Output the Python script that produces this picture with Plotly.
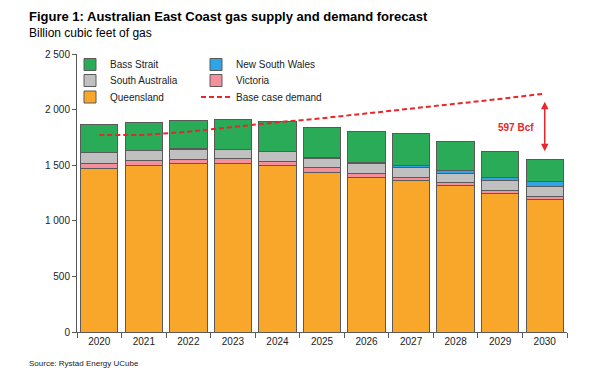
import plotly.graph_objects as go

years = [2020, 2021, 2022, 2023, 2024, 2025, 2026, 2027, 2028, 2029, 2030]
year_labels = [str(y) for y in years]
queensland = [1472, 1499, 1511, 1511, 1493, 1436, 1391, 1361, 1313, 1247, 1193]
victoria = [45, 45, 42, 45, 42, 45, 36, 30, 30, 27, 27]
south_australia = [95, 86, 90, 81, 86, 82, 84, 87, 84, 90, 87]
new_south_wales = [3, 3, 3, 3, 4, 8, 12, 15, 24, 27, 42]
bass_strait = [255, 255, 260, 269, 272, 264, 278, 288, 258, 234, 198]
base_case_demand = [1772, 1772, 1801, 1846, 1886, 1922, 1966, 2006, 2048, 2096, 2144]

y_tickvals = [0, 500, 1000, 1500, 2000, 2500]
y_ticktext = ["0", "500", "1 000", "1 500", "2 000", "2 500"]

FONT = "Liberation Sans, Arial, sans-serif"
OUTLINE = "#5a5a5a"

# (name, values, colour, legend id, legend left px, legend top px)
series = [
    ("Queensland", queensland, "#F9A72B", "legend5", 70, 82.5),
    ("Victoria", victoria, "#F4909B", "legend4", 196, 66),
    ("South Australia", south_australia, "#C0C0C0", "legend3", 70, 66),
    ("New South Wales", new_south_wales, "#2FA4E7", "legend2", 196, 50),
    ("Bass Strait", bass_strait, "#29AB57", "legend7", 70, 50),
]

legend_common = dict(
    xref="container", yref="container", xanchor="left", yanchor="top",
    orientation="v", traceorder="normal", visible=True,
    font=dict(family=FONT, size=10, color="#222222"),
    tracegroupgap=0, bgcolor="rgba(0,0,0,0)",
)
legend_layout = {}

fig = go.Figure()
for name, vals, color, leg, lx, ly in series:
    fig.add_trace(go.Bar(
        x=years, y=vals, name=name, showlegend=True,
        marker=dict(color=color, line=dict(color=OUTLINE, width=1)),
        legend=leg,
    ))
    legend_layout[leg] = dict(x=lx / 600, y=1 - ly / 375, **legend_common)

fig.add_trace(go.Scatter(
    x=years, y=base_case_demand, name="Base case demand", mode="lines",
    showlegend=True,
    line=dict(color="#E8262B", width=2, dash="5px,3px"),
    legend="legend6",
))
legend_layout["legend6"] = dict(x=196 / 600, y=1 - 82.5 / 375, **legend_common)

totals = [a + b + c + d + e for a, b, c, d, e in
          zip(queensland, victoria, south_australia, new_south_wales, bass_strait)]
gap = base_case_demand[-1] - totals[-1]

fig.add_annotation(
    x=years[-1], y=base_case_demand[-1] - 73, ax=years[-1], ay=totals[-1] + 74,
    xref="x", yref="y", axref="x", ayref="y",
    showarrow=True, arrowhead=2, arrowside="end+start", arrowsize=1,
    arrowwidth=1.5, arrowcolor="#E8262B", text="", font=dict(size=1),
    borderpad=0, standoff=0, startstandoff=0,
)
fig.add_annotation(
    x=years[-1] - 0.65, y=(base_case_demand[-1] + totals[-1]) / 2 - 5,
    xref="x", yref="y", showarrow=False,
    text="<b>%d Bcf</b>" % gap,
    font=dict(family=FONT, size=10, color="#E8262B"),
)

L, R, T, B = 77, 33, 54, 43
PW, PH = 600 - L - R, 375 - T - B


def px_to_paper(px, py):
    return (px - L) / PW, (375 - B - py) / PH


fig.update_layout(
    width=600, height=375, showlegend=True,
    margin=dict(l=L, r=R, t=T, b=B, autoexpand=False),
    paper_bgcolor="white", plot_bgcolor="white",
    barmode="stack", bargap=0.16,
    font=dict(family=FONT, size=10, color="#222222"),
    xaxis=dict(
        range=[years[0] - 0.5, years[-1] + 0.5],
        tickvals=years, ticktext=year_labels, ticks="", tickangle=0,
        showline=True, linecolor=OUTLINE, linewidth=1,
        showgrid=False, zeroline=False,
        tickfont=dict(family=FONT, size=10, color="#222222"),
        minor=dict(
            tickvals=[y - 0.5 for y in years] + [years[-1] + 0.5],
            ticks="outside", ticklen=5, tickcolor=OUTLINE, showgrid=False,
        ),
    ),
    yaxis=dict(
        range=[0, 2500], tickvals=y_tickvals, ticktext=y_ticktext,
        ticks="outside", ticklen=4, tickcolor=OUTLINE,
        showline=True, linecolor=OUTLINE, linewidth=1,
        showgrid=False, zeroline=False,
        tickfont=dict(family=FONT, size=10, color="#222222"),
    ),
    **legend_layout,
)

texts = [
    ("<b>Figure 1: Australian East Coast gas supply and demand forecast</b>", 27, 17, 13, "#000000"),
    ("Billion cubic feet of gas", 27, 33, 12, "#000000"),
    ("Source: Rystad Energy UCube", 27, 363, 8, "#222222"),
]
for txt, px, py, size, color in texts:
    xp, yp = px_to_paper(px, py)
    fig.add_annotation(
        x=xp, y=yp, xref="paper", yref="paper", text=txt, showarrow=False,
        xanchor="left", yanchor="middle",
        font=dict(family=FONT, size=size, color=color),
    )

fig.write_html(
    "out.html",
    config={"displayModeBar": False},
    post_script="document.body.style.margin='0';document.body.style.padding='0';"
                "document.documentElement.style.overflow='hidden';",
)
